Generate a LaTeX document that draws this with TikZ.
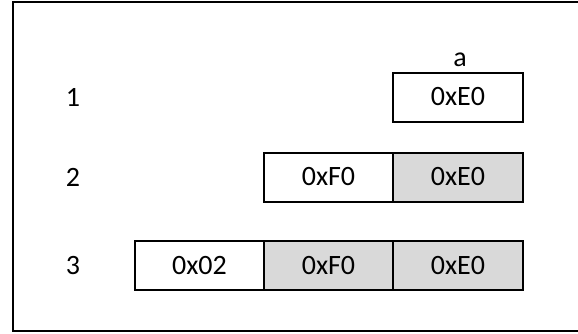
\documentclass[tikz,border=0pt]{standalone}
\usepackage{fontspec}
\setmainfont{Carlito}
\tikzset{
  cell/.style={draw=black, line width=2pt, rectangle, minimum width=129.5pt, minimum height=49pt, inner sep=0pt, font=\fontsize{28}{33}\selectfont},
  cellw/.style={cell, fill=white},
  cellg/.style={cell, fill=gray!30},
  rowlabel/.style={font=\fontsize{28}{33}\selectfont, inner sep=0pt},
}
\begin{document}
\begin{tikzpicture}[x=1pt,y=-1pt]
\useasboundingbox (0,0) rectangle (578,333);
\draw[line width=2.3pt] (590,1.8) -- (13.2,1.8) -- (13.2,330.8) -- (590,330.8);
% labels
\node[rowlabel] (l1) at (73,97) {1};
\node[rowlabel] (l2) at (73,177) {2};
\node[rowlabel] (l3) at (73,265.5) {3};
% row 1
\node[cellw] (r1c) at (458,97) {0xE0};
\node[rowlabel, anchor=base] (a) at (460,66.7) {a};
% row 2
\node[cellw] (r2b) at (328.5,177) {0xF0};
\node[cellg] (r2c) at (458,177) {0xE0};
% row 3
\node[cellw] (r3a) at (199.5,265.5) {0x02};
\node[cellg] (r3b) at (328.5,265.5) {0xF0};
\node[cellg] (r3c) at (458,265.5) {0xE0};
\end{tikzpicture}
\end{document}
